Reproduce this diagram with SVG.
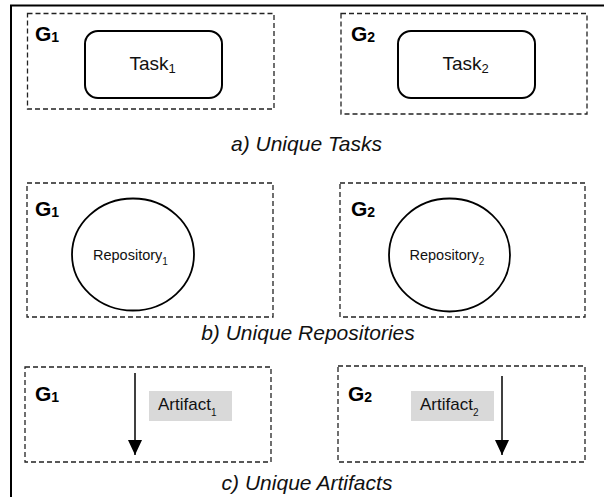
<svg xmlns="http://www.w3.org/2000/svg" width="604" height="497" viewBox="0 0 604 497">
<defs>
<style>
.frame{fill:none;stroke:#000;stroke-width:2}
.grp{fill:none;stroke:#222;stroke-width:1.3;stroke-dasharray:5 3}
.task{fill:#fff;stroke:#000;stroke-width:2}
.repo{fill:#fff;stroke:#000;stroke-width:1.8}
.art{fill:#d9d9d9;stroke:none}
.g{font-family:"Liberation Sans",Arial,sans-serif;font-weight:bold;font-size:21px;fill:#000}
.lbl{font-family:"Liberation Sans",Arial,sans-serif;fill:#111}
.cap{font-family:"Liberation Sans",Arial,sans-serif;font-style:italic;font-size:21px;fill:#111;text-anchor:middle}
.flow{stroke:#000;stroke-width:1.5;fill:none}
</style>
<marker id="ah" markerWidth="15" markerHeight="14" refX="15" refY="7" orient="auto" markerUnits="userSpaceOnUse" viewBox="0 0 15 14">
<path d="M0,0 L15,7 L0,14 Z" fill="#000"/>
</marker>
</defs>
<rect width="604" height="497" fill="#fff"/>
<path class="frame" d="M11,497 V5.5 H604"/>

<g id="a-G1">
<rect class="grp" x="27.5" y="13.5" width="246.5" height="95.5"/>
<text class="g" x="35" y="41">G<tspan font-size="14" dy="1">1</tspan></text>
</g>
<g id="task1">
<rect class="task" x="85" y="31" width="137" height="67" rx="13"/>
<text class="lbl" x="129.5" y="70" font-size="19">Task<tspan font-size="13" dy="3">1</tspan></text>
</g>
<g id="a-G2">
<rect class="grp" x="341" y="13.5" width="246" height="100.5"/>
<text class="g" x="351" y="41">G<tspan font-size="14" dy="1">2</tspan></text>
</g>
<g id="task2">
<rect class="task" x="398" y="31" width="137" height="67" rx="13"/>
<text class="lbl" x="442.5" y="70" font-size="19">Task<tspan font-size="13" dy="3">2</tspan></text>
</g>
<text class="cap" x="306.5" y="151">a) Unique Tasks</text>

<g id="b-G1">
<rect class="grp" x="27" y="183" width="246" height="134"/>
<text class="g" x="35" y="216">G<tspan font-size="14" dy="1">1</tspan></text>
</g>
<g id="repo1">
<ellipse class="repo" cx="133" cy="254.5" rx="61" ry="56"/>
<text class="lbl" x="93" y="260" font-size="14.5">Repository<tspan font-size="10" dy="5">1</tspan></text>
</g>
<g id="b-G2">
<rect class="grp" x="340" y="183" width="245" height="134"/>
<text class="g" x="351" y="216">G<tspan font-size="14" dy="1">2</tspan></text>
</g>
<g id="repo2">
<ellipse class="repo" cx="449.5" cy="255" rx="60.5" ry="56.5"/>
<text class="lbl" x="409.5" y="260" font-size="14.5">Repository<tspan font-size="10" dy="5">2</tspan></text>
</g>
<text class="cap" x="308" y="340">b) Unique Repositories</text>

<g id="c-G1">
<rect class="grp" x="25" y="367" width="246" height="95"/>
<text class="g" x="35" y="401">G<tspan font-size="14" dy="1">1</tspan></text>
</g>
<g id="artifact1">
<rect class="art" x="149" y="391" width="83" height="30"/>
<text class="lbl" x="158" y="410" font-size="17">Artifact<tspan font-size="10" dy="6">1</tspan></text>
</g>
<g id="c-G2">
<rect class="grp" x="338" y="366" width="247" height="96"/>
<text class="g" x="348" y="401">G<tspan font-size="14" dy="1">2</tspan></text>
</g>
<g id="artifact2">
<rect class="art" x="411" y="391" width="83" height="30"/>
<text class="lbl" x="420" y="410" font-size="17">Artifact<tspan font-size="10" dy="6">2</tspan></text>
</g>
<text class="cap" x="307" y="490">c) Unique Artifacts</text>

<g id="connectors">
<line class="flow" x1="135" y1="373" x2="135" y2="455" marker-end="url(#ah)"/>
<line class="flow" x1="502" y1="376" x2="502" y2="455" marker-end="url(#ah)"/>
</g>
</svg>
